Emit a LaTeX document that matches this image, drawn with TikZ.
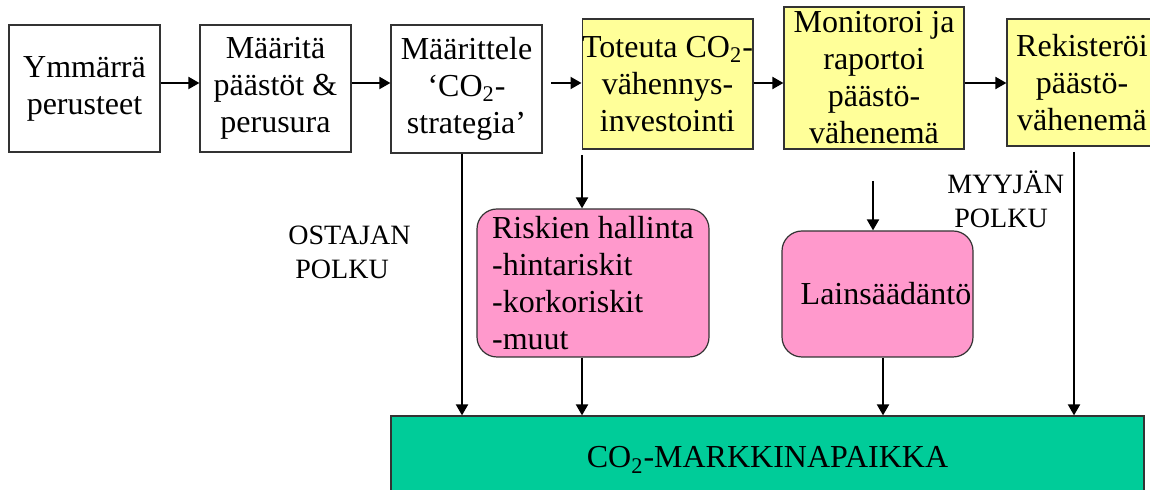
\documentclass[tikz,border=0pt]{standalone}
\usepackage{fontspec}
\setmainfont{Liberation Serif}
\usetikzlibrary{arrows.meta, positioning}
\definecolor{boxyellow}{HTML}{FFFF99}
\definecolor{boxpink}{HTML}{FF99CC}
\definecolor{marketgreen}{HTML}{00CC99}

\begin{document}
\begin{tikzpicture}[x=0.5pt, y=-0.5pt,
    every node/.style={font=\fontsize{16pt}{18.5pt}\selectfont},
    stepbox/.style={draw=black!80, line width=0.6pt, inner sep=0pt, align=center},
    yellowbox/.style={stepbox, fill=boxyellow},
    pinkbox/.style={stepbox, fill=boxpink, rounded corners=10pt},
    pathlabel/.style={font=\fontsize{14pt}{17pt}\selectfont, align=left, inner sep=0pt},
    flow/.style={line width=1pt, -{Triangle[length=5.5pt, width=6pt]}}]
    \clip (0,0) rectangle (1150,490);

    % Top row of steps
    \node[stepbox, minimum width=75.5pt, minimum height=63.5pt] (ymm) at (84.5,88.5) {Ymmärrä\\perusteet};
    \node[stepbox, minimum width=75.5pt, minimum height=63.5pt] (maar) at (275.5,88.5) {Määritä\\päästöt \&\\perusura};
    \node[stepbox, minimum width=75.5pt, minimum height=64pt] (strat) at (466.5,89) {Määrittele\\`CO\textsubscript{2}-\\strategia'};
    \node[yellowbox, minimum width=84.5pt, minimum height=65pt] (tot) at (667.5,84) {Toteuta CO\textsubscript{2}-\\vähennys-\\investointi};
    \node[yellowbox, minimum width=90pt, minimum height=71pt] (mon) at (874,78) {Monitoroi ja\\raportoi\\päästö-\\vähenemä};
    \node[yellowbox, minimum width=75pt, minimum height=63.5pt] (rek) at (1082,82.5) {Rekisteröi\\päästö-\\vähenemä};

    % Risk and law boxes
    \node[pinkbox, align=left, minimum width=116pt, minimum height=74pt] (risk) at (593,283) {Riskien hallinta\\-hintariskit\\-korkoriskit\\-muut};
    \node[pinkbox, minimum width=95.5pt, minimum height=63pt] (lain) at (877.5,294) {\hspace*{8.5pt}Lainsäädäntö};

    % Market place
    \node[stepbox, fill=marketgreen, minimum width=376.5pt, minimum height=44pt] (market) at (767.5,460) {CO\textsubscript{2}-MARKKINAPAIKKA};

    % Path labels
    \node[pathlabel, anchor=west] (ostaja) at (288,252) {OSTAJAN\\\hspace*{0.25em}POLKU};
    \node[pathlabel, anchor=west] (myyja) at (947,199) {MYYJÄN\\\hspace*{0.25em}POLKU};

    % Arrows along the top row
    \coordinate (row) at (0,83);
    \coordinate (stratout) at (551,83);
    \draw[flow] (ymm.east |- row) -- (maar.west |- row);
    \draw[flow] (maar.east |- row) -- (strat.west |- row);
    \draw[flow] (stratout) -- (tot.west |- row);
    \draw[flow] (tot.east |- row) -- (mon.west |- row);
    \draw[flow] (mon.east |- row) -- (rek.west |- row);

    % Arrows down to the market place
    \coordinate (buyer) at (462,0);
    \coordinate (totout) at (582,155);
    \coordinate (monout) at (873,181);
    \coordinate (lainout) at (883,0);
    \coordinate (rekout) at (1074,152);
    \draw[flow] (strat.south -| buyer) -- (market.north -| buyer);
    \draw[flow] (totout) -- (risk.north -| totout);
    \draw[flow] (risk.south -| totout) -- (market.north -| totout);
    \draw[flow] (monout) -- (lain.north -| monout);
    \draw[flow] (lain.south -| lainout) -- (market.north -| lainout);
    \draw[flow] (rekout) -- (market.north -| rekout);
\end{tikzpicture}
\end{document}
